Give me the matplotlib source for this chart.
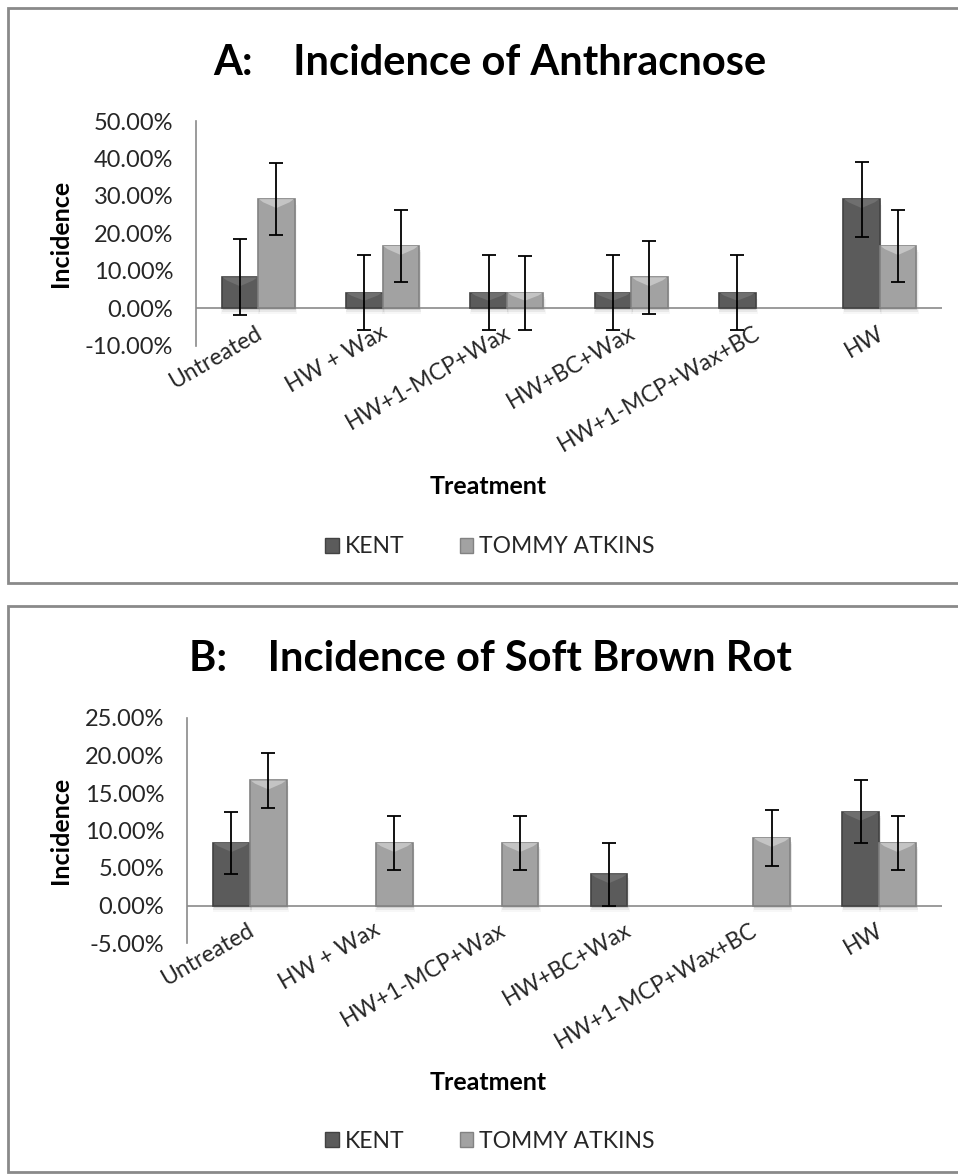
import matplotlib.pyplot as plt
import numpy as np
from matplotlib.patches import Rectangle, Polygon
from matplotlib.ticker import FuncFormatter, MultipleLocator

plt.rcParams['font.family'] = ['Lato', 'DejaVu Sans']

categories = ["Untreated", "HW + Wax", "HW+1-MCP+Wax", "HW+BC+Wax",
              "HW+1-MCP+Wax+BC", "HW"]
series_names = ["KENT", "TOMMY ATKINS"]

# incidence in percent, None = no bar
anth_kent = [8.33, 4.17, 4.17, 4.17, 4.17, 29.17]
anth_kent_err = [10.1, 10.0, 10.0, 10.0, 10.0, 10.0]
anth_tommy = [29.17, 16.67, 4.17, 8.33, None, 16.67]
anth_tommy_err = [9.6, 9.6, 9.8, 9.7, None, 9.6]

rot_kent = [8.33, None, None, 4.17, None, 12.5]
rot_kent_err = [4.1, None, None, 4.17, None, 4.2]
rot_tommy = [16.67, 8.33, 8.33, None, 9.0, 8.33]
rot_tommy_err = [3.65, 3.65, 3.65, None, 3.7, 3.65]

W, H = 958, 1176
fig = plt.figure(figsize=(W / 100, H / 100), dpi=100)

base_cols = ["#5b5b5b", "#a2a2a2"]
edge_cols = ["#424242", "#828282"]
bevel_cols = ["#6f6f6f", "#c4c4c4"]
txt = "#262626"


def px_box(x0, y0, x1, y1):
    return [x0 / W, 1 - y1 / H, (x1 - x0) / W, (y1 - y0) / H]


def draw_bars(ax, xs, vals, errs, k, bw, px_per_unit):
    bev = 9 / px_per_unit
    for x, v, e in zip(xs, vals, errs):
        if v is None:
            continue
        # soft shadow under the bar
        for i, a in enumerate([0.10, 0.06, 0.03]):
            sh = (2 + 2 * i) / px_per_unit
            ax.bar(x + 0.008, v, bw + 0.01 * i, bottom=-sh, color="#000000",
                   alpha=a, linewidth=0, zorder=1)
        ax.bar(x, v, bw, color=base_cols[k], edgecolor=edge_cols[k],
               linewidth=1.2, zorder=2)
        h = min(bev, v / 2)
        x0, x1 = x - bw / 2, x + bw / 2
        # bevel on the top edge: light band narrowing into a wedge
        ax.add_patch(Polygon([(x0 + 0.006, v), (x1 - 0.006, v),
                              (x1 - 0.04, v - h * 0.35), (x, v - h),
                              (x0 + 0.04, v - h * 0.35)],
                             closed=True, facecolor=bevel_cols[k],
                             edgecolor="none", zorder=3))
        if e is not None:
            ax.errorbar(x, v, yerr=e, fmt="none", ecolor="black",
                        elinewidth=1.3, capsize=5, capthick=1.3, zorder=4)


def panel(box, ax_px, ylim, step, title, kent, kent_err, tommy, tommy_err,
          title_y, xlabel_y, legend_y, ylabel_x):
    # outer frame of the chart area
    x0, y0, x1, y1 = box
    fig.add_artist(Rectangle((x0 / W, 1 - y1 / H), (x1 - x0) / W,
                             (y1 - y0) / H, transform=fig.transFigure,
                             facecolor="white", edgecolor="#8a8a8a",
                             linewidth=2, zorder=0))
    ax = fig.add_axes(px_box(*ax_px))
    ax.set_facecolor("none")
    ax.set_xlim(-0.5, len(categories) - 0.5)
    ax.set_ylim(*ylim)
    px_per_unit = (ax_px[3] - ax_px[1]) / (ylim[1] - ylim[0])

    bw = 0.293
    xs = np.arange(len(categories))
    draw_bars(ax, xs - bw / 2, kent, kent_err, 0, bw, px_per_unit)
    draw_bars(ax, xs + bw / 2, tommy, tommy_err, 1, bw, px_per_unit)

    ax.axhline(0, color="#8a8a8a", linewidth=1.2, zorder=1.5)
    for s in ["top", "right", "bottom"]:
        ax.spines[s].set_visible(False)
    ax.spines["left"].set_color("#8a8a8a")
    ax.spines["left"].set_linewidth(1.2)

    ax.yaxis.set_major_locator(MultipleLocator(step))
    ax.yaxis.set_major_formatter(FuncFormatter(lambda v, p: f"{v:.2f}%"))
    ax.tick_params(axis="y", length=0, pad=16.5, labelsize=17,
                   labelcolor=txt)
    ax.set_xticks(xs)
    ax.set_xticklabels([])
    ax.tick_params(axis="x", length=0)
    for x, lab in zip(xs, categories):
        ax.annotate(lab, xy=(x, 0), xycoords=("data", "axes fraction"),
                    xytext=(-2, 17), textcoords="offset points",
                    rotation=30, rotation_mode="anchor", ha="right",
                    va="top", fontsize=16.5, color=txt)

    fig.text(490 / W, 1 - title_y / H, title, ha="center", va="center",
             fontsize=30, fontweight="bold", color="black")
    fig.text(488 / W, 1 - xlabel_y / H, "Treatment", ha="center",
             va="center", fontsize=18, fontweight="bold", color="black")
    fig.text(ylabel_x / W, 1 - (ax_px[1] + ax_px[3]) / 2 / H, "Incidence",
             ha="center", va="center", rotation=90, fontsize=18,
             fontweight="bold", color="black")

    handles = [Rectangle((0, 0), 1, 1, facecolor=base_cols[i],
                         edgecolor=edge_cols[i]) for i in range(2)]
    fig.legend(handles, series_names, loc="center",
               bbox_to_anchor=(490 / W, 1 - legend_y / H), ncol=2,
               frameon=False, fontsize=16.5, handlelength=0.6,
               handleheight=0.6, handletextpad=0.25, columnspacing=2.4,
               labelcolor=txt)
    return ax


panel((8, 8, 970, 583), (196, 121, 942, 346), (-10, 50), 10,
      "A:    Incidence of Anthracnose",
      anth_kent, anth_kent_err, anth_tommy, anth_tommy_err,
      title_y=63, xlabel_y=487, legend_y=547, ylabel_x=60)

panel((8, 606, 970, 1172), (187, 718, 942, 943), (-5, 25), 5,
      "B:    Incidence of Soft Brown Rot",
      rot_kent, rot_kent_err, rot_tommy, rot_tommy_err,
      title_y=659, xlabel_y=1083, legend_y=1141, ylabel_x=60)

fig.savefig("out.png", dpi=100)
